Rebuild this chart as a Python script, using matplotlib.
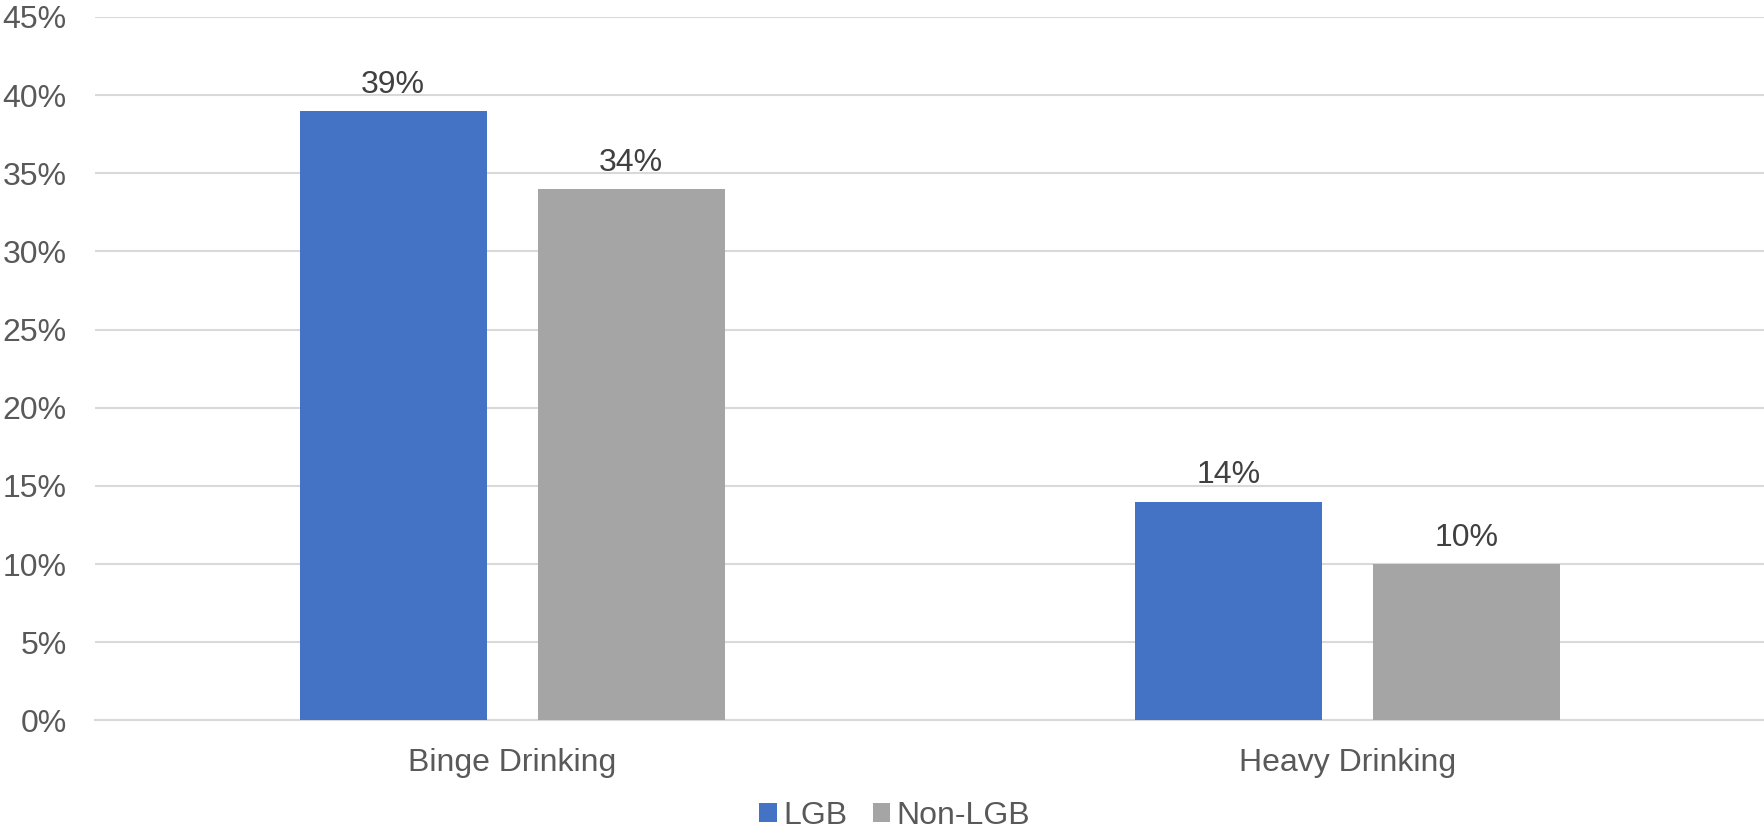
import matplotlib
matplotlib.use("Agg")
import matplotlib.pyplot as plt
from matplotlib.patches import Patch
from matplotlib.ticker import FuncFormatter, MultipleLocator
import numpy as np

categories = ["Binge Drinking", "Heavy Drinking"]
series_names = ["LGB", "Non-LGB"]
lgb_values = [0.39, 0.14]
non_lgb_values = [0.34, 0.10]

colors = ["#4472C4", "#A5A5A5"]
text_color = "#595959"
grid_color = "#D9D9D9"

plt.rcParams["font.family"] = ["Liberation Sans", "DejaVu Sans"]

fig = plt.figure(figsize=(17.65, 8.36), dpi=100)
ax = fig.add_axes([0.0536, 0.1382, 0.9464, 0.8415])

x = np.arange(len(categories))
width = 0.224
offset = 0.1425

for vals, name, col, sign in [(lgb_values, series_names[0], colors[0], -1),
                              (non_lgb_values, series_names[1], colors[1], 1)]:
    bars = ax.bar(x + sign * offset, vals, width, color=col, label=name, zorder=3)
    for b, v in zip(bars, vals):
        ax.annotate(f"{v * 100:.0f}%", (b.get_x() + b.get_width() / 2, v),
                    xytext=(0, 8), textcoords="offset points",
                    ha="center", va="bottom", fontsize=23, color="#404040")

ax.set_xlim(-0.5, 1.5)
ax.set_ylim(0, 0.45)
ax.yaxis.set_major_locator(MultipleLocator(0.05))
ax.yaxis.set_major_formatter(FuncFormatter(lambda v, _: f"{v * 100:.0f}%"))
ax.set_xticks(x)
ax.set_xticklabels(categories)
ax.tick_params(axis="both", length=0, labelsize=23, colors=text_color)
ax.tick_params(axis="x", pad=20)
ax.tick_params(axis="y", pad=20)
ax.grid(axis="y", color=grid_color, linewidth=1.5, zorder=0)
for side in ["top", "right", "left"]:
    ax.spines[side].set_visible(False)
ax.spines["bottom"].set_color(grid_color)
ax.spines["bottom"].set_linewidth(1.5)

handles = [Patch(facecolor=c, edgecolor="none") for c in colors]
fig.legend(handles, series_names, loc="center", bbox_to_anchor=(0.507, 0.024),
           ncol=2, frameon=False, fontsize=23, labelcolor=text_color,
           handlelength=0.55, handleheight=0.55, handletextpad=0.2,
           columnspacing=0.8)

fig.savefig("out.png", dpi=100)
